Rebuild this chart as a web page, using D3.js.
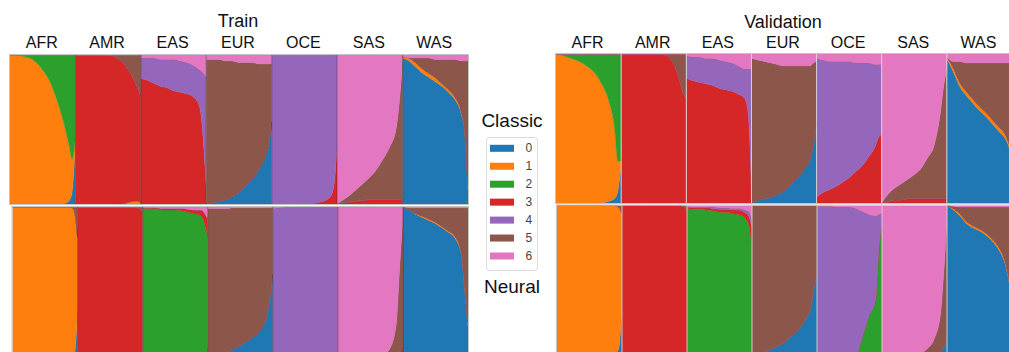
<!DOCTYPE html>
<html>
<head>
<meta charset="utf-8">
<script src="https://cdn.jsdelivr.net/npm/d3@7"></script>
<style>
  body { margin: 0; background: #fff; }
  text { font-family: "Liberation Sans", Arial, Helvetica, sans-serif; }
</style>
</head>
<body>
<script>
// Canvas
let width = 1009;
let height = 352;

let svg = d3.select("body")
            .append("svg")
            .attr("width", width)
            .attr("height", height);

// Colour palette (tab10, first 7)
const components = [0, 1, 2, 3, 4, 5, 6];
const colors = ["#1f77b4", "#ff7f0e", "#2ca02c", "#d62728", "#9467bd", "#8c564b", "#e377c2"];

const pops = ["AFR", "AMR", "EAS", "EUR", "OCE", "SAS", "WAS"];

// position of each sample inside a population block (0 = left, 1 = right)
const samplePos = [0, .1, .2, .3, .4, .5, .6, .7, .8, .9, .95, 1];

// Each block: per-component ancestry fractions at samplePos; "fill" takes the rest
const trainClassic = [
  {pop: "AFR", fill: 2, layers: {0: [0,0,0,0,0,0,0,0,0,.02,.08,.4], 1: [1,1,.99,.98,.95,.9,.83,.72,.58,.38,.22,.05]}},
  {pop: "AMR", fill: 3, layers: {5: [0,0,0,0,0,0,.01,.04,.09,.17,.22,.28], 1: [0,0,0,0,0,0,0,0,.01,.02,.02,.01]}},
  {pop: "EAS", fill: 4, layers: {3: [.84,.83,.81,.79,.78,.76,.75,.74,.72,.65,.45,.1], 6: [.02,.02,.02,.03,.03,.03,.04,.05,.07,.1,.12,.15]}},
  {pop: "EUR", fill: 5, layers: {0: [0,.01,.02,.03,.05,.08,.12,.17,.23,.32,.4,.55], 6: [.03,.03,.03,.04,.04,.05,.05,.05,.06,.06,.06,.06]}},
  {pop: "OCE", fill: 4, layers: {3: [0,0,0,0,0,0,0,.01,.02,.05,.12,.38]}},
  {pop: "SAS", fill: 6, layers: {3: [0,.01,.015,.02,.025,.03,.03,.03,.03,.03,.03,.03], 5: [0,.02,.045,.08,.115,.15,.2,.27,.35,.47,.65,.92]}},
  {pop: "WAS", fill: 5, layers: {0: [.98,.96,.92,.88,.85,.82,.79,.75,.7,.6,.48,.1], 1: [.01,.02,.03,.03,.03,.03,.02,.02,.02,.02,.02,.02], 6: [.01,.02,.02,.02,.02,.03,.03,.03,.03,.04,.04,.04]}}
];

const trainNeural = [
  {pop: "AFR", fill: 1, layers: {0: [0,0,0,0,0,0,0,0,0,0,.01,.3], 5: [0,0,0,0,0,0,0,0,0,0,.02,.2]}},
  {pop: "AMR", fill: 3, layers: {5: [0,0,0,0,0,0,0,0,0,0,.01,.03]}},
  {pop: "EAS", fill: 2, layers: {3: [.005,.005,.01,.01,.01,.01,.015,.02,.025,.04,.07,.12], 6: [.005,.005,.005,.01,.01,.01,.01,.015,.02,.02,.04,.08], 0: [0,0,0,0,0,0,0,0,0,0,0,.05]}},
  {pop: "EUR", fill: 5, layers: {0: [0,.01,.02,.03,.05,.07,.1,.13,.17,.26,.38,.55], 6: [.01,.01,.01,.01,.005,.005,.005,.005,.005,.005,.005,.005]}},
  {pop: "OCE", fill: 4, layers: {6: [.01,.005,0,0,0,0,0,0,0,0,0,0]}},
  {pop: "SAS", fill: 6, layers: {3: [0,0,0,0,0,0,0,0,0,.01,.03,.05], 5: [0,0,0,0,0,0,.005,.01,.05,.21,.57,.87]}},
  {pop: "WAS", fill: 5, layers: {0: [1,.98,.95,.93,.91,.89,.86,.83,.79,.68,.45,.2], 1: [0,0,.005,.01,.01,.01,.01,.01,.015,.015,.02,.02], 6: [0,.005,.005,.005,.005,.005,.005,.005,.005,.005,.005,.005]}}
];

const valClassic = [
  {pop: "AFR", fill: 2, layers: {0: [0,0,0,0,0,0,0,0,.01,.03,.08,.25], 1: [1,.99,.975,.96,.94,.91,.87,.8,.69,.47,.2,.03]}},
  {pop: "AMR", fill: 3, layers: {5: [0,0,0,0,0,0,0,.01,.06,.18,.26,.3]}},
  {pop: "EAS", fill: 4, layers: {3: [.84,.82,.81,.8,.79,.77,.76,.75,.73,.7,.6,.1], 6: [.01,.02,.02,.03,.03,.04,.05,.06,.08,.1,.1,.1]}},
  {pop: "EUR", fill: 5, layers: {0: [0,.02,.03,.04,.06,.08,.12,.17,.22,.3,.4,.55], 6: [.03,.04,.05,.06,.07,.08,.08,.08,.08,.08,.06,.05]}},
  {pop: "OCE", fill: 4, layers: {3: [.04,.07,.09,.11,.14,.17,.21,.25,.31,.38,.44,.46], 6: [.03,.04,.05,.05,.05,.05,.06,.06,.06,.07,.07,.07]}},
  {pop: "SAS", fill: 6, layers: {3: [0,.01,.02,.02,.03,.03,.03,.03,.03,.03,.03,.03], 5: [0,.05,.08,.11,.13,.16,.2,.27,.35,.57,.75,.87]}},
  {pop: "WAS", fill: 5, layers: {0: [.97,.88,.78,.72,.67,.62,.58,.53,.48,.43,.38,.3], 1: [.01,.03,.03,.03,.03,.03,.03,.03,.03,.03,.03,.03], 6: [.02,.05,.05,.06,.06,.06,.06,.06,.06,.06,.06,.06]}}
];

const valNeural = [
  {pop: "AFR", fill: 1, layers: {0: [0,0,0,0,0,0,0,0,0,.01,.04,.3], 5: [0,0,0,0,0,0,0,0,0,0,.01,.05]}},
  {pop: "AMR", fill: 3, layers: {5: [0,0,0,0,0,0,0,0,0,0,.01,.03]}},
  {pop: "EAS", fill: 2, layers: {3: [.01,.01,.01,.015,.015,.02,.02,.025,.03,.04,.06,.12], 4: [.005,.005,.005,.005,.01,.01,.01,.01,.01,.02,.03,.05], 6: [.005,.01,.01,.01,.01,.015,.015,.02,.02,.03,.04,.1]}},
  {pop: "EUR", fill: 5, layers: {0: [0,.01,.02,.04,.06,.08,.12,.16,.22,.32,.45,.55]}},
  {pop: "OCE", fill: 4, layers: {2: [0,0,0,0,0,0,0,.12,.26,.36,.7,.9], 6: [.005,.005,.005,.01,.01,.01,.02,.04,.06,.07,.06,.05]}},
  {pop: "SAS", fill: 6, layers: {0: [0,0,0,0,0,0,0,0,0,.02,.05,.1], 5: [0,0,0,0,0,0,.01,.04,.1,.25,.5,.8]}},
  {pop: "WAS", fill: 5, layers: {0: [1,.97,.93,.88,.85,.83,.8,.76,.7,.6,.5,.4], 1: [0,.01,.015,.015,.015,.015,.015,.015,.02,.02,.02,.02], 6: [0,.005,.01,.01,.01,.01,.01,.01,.01,.01,.01,.01]}}
];

// Plot frames
const panels = [
  {data: trainClassic, x0: 10,  x1: 468,  y0: 55,    y1: 204,   sep: "rgba(60,20,20,0.45)"},
  {data: trainNeural,  x0: 12.5, x1: 468, y0: 207,   y1: 356,   sep: "rgba(60,20,20,0.45)"},
  {data: valClassic,   x0: 556, x1: 1012, y0: 54,    y1: 203,   sep: "rgba(215,215,215,0.9)"},
  {data: valNeural,    x0: 557, x1: 1012, y0: 205.5, y1: 354.5, sep: "rgba(215,215,215,0.9)"}
];

const stack = d3.stack().keys(components);
let clipId = 0;

panels.forEach(p => {
  const xBand = d3.scaleBand().domain(pops).range([p.x0, p.x1]).padding(0);
  const y = d3.scaleLinear().domain([0, 1]).range([p.y1, p.y0]);

  const g = svg.append("g");

  p.data.forEach(block => {
    const rows = samplePos.map((t, i) => {
      const row = {t: t};
      let sum = 0;
      components.forEach(c => {
        const v = block.layers[c] ? block.layers[c][i] : 0;
        row[c] = v;
        sum += v;
      });
      row[block.fill] = Math.max(0, 1 - sum);
      return row;
    });

    const bx = xBand(block.pop);
    const x = d3.scaleLinear().domain([0, 1]).range([bx, bx + xBand.bandwidth()]);

    const id = "clip" + (clipId++);
    svg.append("clipPath").attr("id", id)
      .append("rect")
      .attr("x", bx).attr("y", p.y0)
      .attr("width", xBand.bandwidth()).attr("height", p.y1 - p.y0);

    const area = d3.area()
      .x(d => x(d.data.t))
      .y0(d => y(d[0]))
      .y1(d => y(d[1]))
      .curve(d3.curveMonotoneX);

    g.append("g")
      .attr("clip-path", `url(#${id})`)
      .selectAll("path")
      .data(stack(rows))
      .enter().append("path")
      .attr("d", area)
      .attr("fill", d => colors[d.key])
      .attr("stroke", d => colors[d.key])
      .attr("stroke-width", 0.4);
  });

  // block separators
  g.selectAll(".sep")
    .data(pops.slice(1))
    .enter().append("line")
    .attr("x1", d => xBand(d)).attr("x2", d => xBand(d))
    .attr("y1", p.y0).attr("y2", p.y1)
    .attr("stroke", p.sep)
    .attr("stroke-width", 1);

  // frame
  g.append("rect")
    .attr("x", p.x0 - 0.5).attr("y", p.y0 - 0.5)
    .attr("width", p.x1 - p.x0 + 1).attr("height", p.y1 - p.y0 + 1)
    .attr("fill", "none")
    .attr("stroke", "#c4c4c4")
    .attr("stroke-width", 1);
});

// Titles and population labels
const titles = [
  {text: "Train", x0: 10, x1: 468, y: 27},
  {text: "Validation", x0: 556, x1: 1012, y: 28}
];

titles.forEach(t => {
  svg.append("text")
    .attr("x", (t.x0 + t.x1) / 2 - 1)
    .attr("y", t.y)
    .attr("text-anchor", "middle")
    .attr("font-size", 18)
    .attr("fill", "#111")
    .text(t.text);

  const xb = d3.scaleBand().domain(pops).range([t.x0, t.x1]);
  svg.append("g").selectAll("text")
    .data(pops)
    .enter().append("text")
    .attr("x", d => xb(d) + xb.bandwidth() / 2 - 1)
    .attr("y", 48)
    .attr("text-anchor", "middle")
    .attr("font-size", 16)
    .attr("fill", "#111")
    .text(d => d);
});

// Middle: row labels and legend
svg.append("text")
  .attr("x", 512).attr("y", 127)
  .attr("text-anchor", "middle")
  .attr("font-size", 19)
  .attr("fill", "#111")
  .text("Classic");

svg.append("text")
  .attr("x", 512).attr("y", 293)
  .attr("text-anchor", "middle")
  .attr("font-size", 19)
  .attr("fill", "#111")
  .text("Neural");

const legend = svg.append("g");
legend.append("rect")
  .attr("x", 486.5).attr("y", 137.5)
  .attr("width", 51).attr("height", 133)
  .attr("rx", 3)
  .attr("fill", "#fff")
  .attr("stroke", "#dcdcdc");

const ly = d3.scalePoint().domain(components).range([148.3, 256]);

legend.selectAll(".sw")
  .data(components)
  .enter().append("rect")
  .attr("x", 490).attr("y", d => ly(d) - 3.5)
  .attr("width", 24).attr("height", 7)
  .attr("fill", d => colors[d]);

legend.selectAll(".lbl")
  .data(components)
  .enter().append("text")
  .attr("x", 525.5).attr("y", d => ly(d))
  .attr("dominant-baseline", "central")
  .attr("font-size", 12)
  .attr("fill", "#444")
  .text(d => d);
</script>
</body>
</html>
